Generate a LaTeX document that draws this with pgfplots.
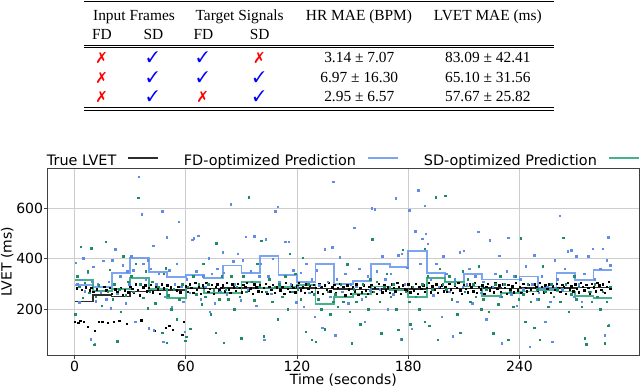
\documentclass[border=0pt]{standalone}
\usepackage{fontspec}
\setmainfont{DejaVu Sans}
\newfontfamily\tabfont{Liberation Serif}
\usepackage{pifont}
\usepackage{pgfplots}
\pgfplotsset{compat=1.18}

\definecolor{fdblue}{RGB}{100,149,237}
\definecolor{fddot}{RGB}{95,140,230}
\definecolor{sdgreen}{RGB}{52,168,125}
\definecolor{sddot}{RGB}{30,140,100}
\definecolor{truegray}{RGB}{45,45,45}
\definecolor{gridgray}{RGB}{205,205,205}

\newcommand{\yes}{\textcolor{blue}{\ding{51}}}
\newcommand{\no}{\textcolor{red}{\ding{55}}}
\newcommand{\chartfont}{\fontsize{14}{16}\selectfont}
\newcommand{\legfont}{\fontsize{14.4}{16}\selectfont}

\begin{document}
\begin{tikzpicture}
\useasboundingbox (0,0) rectangle (640pt,389pt);

% results table (image coordinates, y downwards)
\begin{scope}[x=1pt,y=-1pt,shift={(0pt,389pt)},
  every node/.style={inner sep=0pt, anchor=base, font=\tabfont\fontsize{15.4}{18}\selectfont}]
\draw[line width=1.2pt] (84,1.9) -- (554,1.9);
\node at (134,20.4) {Input Frames};
\node at (239.6,20.4) {Target Signals};
\node at (359,20.4) {HR MAE (BPM)};
\node at (487.8,20.4) {LVET MAE (ms)};
\node at (102,39.6) {FD};
\node at (153.5,39.6) {SD};
\node at (203.5,39.6) {FD};
\node at (259.6,39.6) {SD};
\draw[line width=0.7pt] (84,45.2) -- (554,45.2);
\draw[line width=0.7pt] (84,47.6) -- (554,47.6);
\node at (101.5,62.2) {\no};  \node at (152.6,62.2) {\yes};
\node at (202.6,62.2) {\yes}; \node at (259.3,62.2) {\no};
\node at (359.3,62.2) {3.14 ± 7.07};  \node at (487.8,62.2) {83.09 ± 42.41};
\node at (101.5,82.2) {\no};  \node at (152.6,82.2) {\yes};
\node at (202.6,82.2) {\yes}; \node at (259.3,82.2) {\yes};
\node at (359.3,82.2) {6.97 ± 16.30}; \node at (487.8,82.2) {65.10 ± 31.56};
\node at (101.5,101.9) {\no};  \node at (152.6,101.9) {\yes};
\node at (202.6,101.9) {\no};  \node at (259.3,101.9) {\yes};
\node at (359.3,101.9) {2.95 ± 6.57}; \node at (487.8,101.9) {57.67 ± 25.82};
\draw[line width=0.7pt] (84,107.4) -- (554,107.4);
\draw[line width=1.2pt] (84,110.4) -- (554,110.4);
\end{scope}

\begin{axis}[
  at={(47.7pt,34pt)}, anchor=south west,
  width=591.3pt, height=186.7pt, scale only axis,
  xmin=-14.5, xmax=304.5, ymin=19, ymax=758,
  xtick={0,60,120,180,240}, ytick={200,400,600},
  grid=major, grid style={gridgray, line width=0.8pt},
  axis line style={black!75, line width=0.8pt},
  tick align=outside, tick pos=left, major tick length=3.5pt,
  tick style={black!75, line width=0.8pt},
  /pgf/number format/assume math mode=true,
  tick label style={font=\chartfont},
  label style={font=\chartfont},
  xticklabel style={anchor=north, inner sep=0pt, yshift=-2pt},
  yticklabel style={anchor=east, inner sep=0pt, xshift=-1pt},
  xlabel={Time (seconds)}, ylabel={LVET (ms)},
  xlabel style={at={(axis description cs:0.5,-0.158)}, anchor=base, inner sep=0pt},
  ylabel style={at={(axis description cs:-0.061,0.5)}, anchor=base, inner sep=0pt},
  legend columns=3, legend plot pos=right, legend cell align=left,
  legend image code/.code={\draw[#1] (0pt,0.32em) -- (30pt,0.32em);},
  legend style={at={(axis description cs:0,1)}, anchor=south west, xshift=-1.7pt,
    draw=none, fill=none, inner sep=0pt, outer sep=0pt,
    nodes={inner sep=1pt}, font=\legfont,
    /tikz/every odd column/.append style={column sep=10pt},
    /tikz/every even column/.append style={column sep=24pt}},
]

% true LVET samples
\addplot[only marks, mark=square*, mark size=0.7pt, black, forget plot] coordinates {
(0,150) (1,283) (2,148) (3,155) (4,278) (5,152) (6,288) (7,130) (8,276) (9,285)
(10,270) (11,115) (12,280) (13,150) (14,265) (15,152) (16,290) (17,275) (18,148) (19,285)
(20,262) (21,150) (22,280) (23,270) (24,155) (25,285) (26,258) (27,275) (28,142) (29,268)
(30,290) (31,282) (32,265) (33,300) (34,278) (35,255) (36,157) (37,288) (38,296) (39,272)
(40,285) (41,298) (42,268) (43,115) (44,292) (45,280) (46,262) (47,300) (48,284) (49,128)
(50,295) (51,135) (52,288) (53,120) (54,302) (55,275) (56,290) (57,268) (58,100) (59,150)
(60,292) (61,270) (62,300) (63,285) (64,265) (65,305) (66,278) (67,290) (68,262) (69,296)
(70,288) (71,305) (72,270) (73,282) (74,298) (75,262) (76,290) (77,300) (78,275) (79,286)
(80,296) (81,272) (82,305) (83,280) (84,265) (85,300) (86,288) (87,274) (88,302) (89,285)
(90,268) (91,298) (92,290) (93,305) (94,276) (95,284) (96,262) (97,300) (98,288) (99,272)
(100,295) (101,270) (102,285) (103,302) (104,262) (105,290) (106,278) (107,298) (108,265) (109,288)
(110,300) (111,275) (112,290) (113,262) (114,305) (115,282) (116,270) (117,296) (118,285) (119,268)
(120,292) (121,305) (122,276) (123,288) (124,265) (125,300) (126,282) (127,294) (128,270) (129,298)
(130,285) (131,268) (132,302) (133,290) (134,262) (135,296) (136,278) (137,305) (138,272) (139,288)
(140,298) (141,265) (142,285) (143,302) (144,270) (145,290) (146,255) (147,295) (148,280) (149,262)
(150,288) (151,272) (152,300) (153,258) (154,285) (155,268) (156,295) (157,275) (158,262) (159,290)
(160,298) (161,270) (162,285) (163,262) (164,302) (165,280) (166,268) (167,295) (168,276) (169,288)
(170,265) (171,300) (172,285) (173,272) (174,305) (175,290) (176,262) (177,296) (178,280) (179,275)
(180,300) (181,268) (182,288) (183,275) (184,302) (185,262) (186,290) (187,282) (188,296) (189,270)
(190,285) (191,305) (192,268) (193,292) (194,278) (195,300) (196,265) (197,288) (198,295) (199,272)
(200,290) (201,270) (202,302) (203,280) (204,265) (205,296) (206,285) (207,305) (208,275) (209,262)
(210,298) (211,282) (212,268) (213,300) (214,288) (215,272) (216,305) (217,265) (218,290) (219,280)
(220,295) (221,262) (222,288) (223,302) (224,275) (225,290) (226,268) (227,305) (228,282) (229,296)
(230,270) (231,300) (232,285) (233,262) (234,298) (235,280) (236,292) (237,268) (238,305) (239,276)
(240,290) (241,265) (242,302) (243,285) (244,272) (245,298) (246,280) (247,262) (248,300) (249,288)
(250,275) (251,305) (252,290) (253,268) (254,296) (255,282) (256,300) (257,265) (258,292) (259,278)
(260,302) (261,285) (262,270) (263,298) (264,288) (265,262) (266,305) (267,280) (268,292) (269,272)
(270,300) (271,282) (272,268) (273,305) (274,290) (275,275) (276,298) (277,285) (278,262) (279,302)
(280,288) (281,272) (282,305) (283,295) (284,278) (285,300) (286,265) (287,290) (288,310) (289,282)
};

% FD-optimized prediction samples
\addplot[only marks, mark=square*, mark size=0.75pt, fddot, forget plot] coordinates {
(0.5,385) (1.5,300) (2.5,228) (3.5,318) (4.6,402) (5.5,272) (7,345) (8.7,81) (9.5,310)
(10,369) (10.8,61) (11.5,232) (12.5,300) (14,265) (15.5,392) (17,240) (18.5,310) (19.5,205)
(20.3,395) (21.9,438) (23,262) (24.5,330) (26,375) (27.5,225) (28.5,350) (29.5,300)
(30.5,410) (31.5,355) (32.7,151) (34.7,725) (36.1,577) (37,380) (38.5,320) (39.5,395)
(40.1,125) (41,360) (42.3,451) (42.8,118) (44,300) (45.5,340) (47.3,589) (47.7,71) (48.5,250) (49.7,485)
(51,355) (52.5,210) (54,300) (55,380) (56.3,547) (57.5,290) (58.5,230) (59.5,112)
(60.5,320) (62,265) (63.5,475) (64.3,481) (65.5,350) (66.8,491) (68,240) (69.5,330)
(70.5,290) (72.4,402) (72.8,190) (74,340) (75.5,225) (77,360) (78.5,270) (79.9,425)
(80.5,345) (82,260) (84.1,616) (85.5,390) (86.5,300) (88,420) (89.5,235)
(90.8,395) (92.2,488) (93.5,280) (95,350) (97,490) (98,215) (99.5,330)
(100.5,380) (102.3,79) (103,478) (104.5,330) (106,262) (107,400) (108.3,589) (109.5,606)
(110.5,310) (112,250) (113.7,468) (115.5,468) (116.5,300) (118,355) (119.5,228)
(120.5,290) (122,345) (123.5,210) (125,380) (126.5,265) (128,320) (129.5,170)
(130.5,355) (132,295) (133.6,128) (135,438) (136.5,310) (138,250) (139,445) (139.4,705)
(140.5,98) (141.5,320) (143,406) (144.5,270) (146,340) (147.5,225) (149,300)
(150.9,523) (152,290) (153.5,360) (155,240) (156.5,150) (158,330) (159.5,275)
(160.4,600) (161.8,596) (163,350) (164.5,280) (166,410) (167.5,320) (169,200)
(170.5,340) (172,260) (173.3,640) (174.5,415) (176,82) (176.5,420) (178,300) (179.5,365)
(180.6,593) (182,124) (183.8,510) (185.5,672) (186.5,380) (187.5,480) (188.8,609) (189.5,500)
(190.5,460) (192,320) (193.5,255) (195,380) (196.5,290) (198,170) (199,410)
(200.5,340) (202,270) (203.9,93) (205,320) (206.5,230) (207.9,425) (209.5,290)
(210,432) (211.5,300) (213,360) (214.5,225) (216,330) (217.8,507) (219,265)
(220.5,310) (222,160) (224,474) (225.5,290) (227,340) (229,413) (229.5,250)
(230.5,65) (231.5,300) (233,350) (234,484) (235.5,260) (237,330) (238.5,215)
(240.5,320) (242,280) (243.5,370) (245.5,52) (247,300) (248,415) (249.5,240)
(250.5,265) (252,330) (254,150) (255,290) (256.5,230) (257.6,72) (259,395)
(260.5,320) (261.8,571) (263,280) (264.5,360) (266,430) (268,434) (269.5,250)
(270.5,410) (272,300) (273.5,230) (275,340) (277,410) (278.5,270) (279.5,440)
(280.5,320) (282,250) (283.5,360) (285,440) (286,98) (287,395) (287.8,485) (288.2,139) (289,375)
};

% SD-optimized prediction samples
\addplot[only marks, mark=square*, mark size=0.75pt, sddot, forget plot] coordinates {
(0.4,180) (1.5,330) (2.5,290) (3.3,448) (4.5,245) (5.5,305) (7,350) (8,265) (9,441)
(10.5,59) (11.5,250) (13,295) (14.5,215) (16.7,468) (18,270) (19,356)
(20.5,240) (21.5,300) (22.9,74) (24,280) (25,190) (26.3,411) (27.5,255) (29,310)
(30.5,330) (31.5,270) (33,380) (34.2,642) (35.5,300) (37,245) (38.5,350) (39.5,205)
(40.5,270) (42,310) (43.5,225) (45,290) (47.3,108) (48,340) (49.1,362) (49.6,68)
(50.5,255) (52,200) (53.5,280) (55,160) (56.5,240) (58,300) (59.8,75)
(60.2,91) (61,290) (62.5,124) (64,330) (65.5,260) (67,300) (68.5,220) (69.5,380)
(70.5,250) (72,300) (73.5,180) (75,275) (76,108) (76.5,461) (78,240) (79.5,330)
(80.5,68) (81.5,280) (83,240) (84.5,330) (86,200) (87.5,290) (89,250)
(90,85) (91,330) (92.5,270) (93.9,643) (95.5,310) (97,235) (98.5,380) (99.5,290)
(100.8,472) (102,94) (103.5,270) (105,320) (106.5,230) (108,290) (109.5,160)
(110.5,300) (112,250) (113.5,330) (115,200) (116,420) (117.5,270) (119,340)
(120.5,280) (122,240) (123,404) (124.6,112) (126,300) (127.8,79) (129,260)
(130,71) (131.5,240) (133,200) (135,121) (136.5,270) (138,180) (139.5,230)
(140.5,260) (142,210) (143.5,300) (145,230) (147,379) (148.5,190) (149.5,66)
(150.5,280) (152,230) (154,141) (155.5,300) (157,250) (158.5,200) (159.5,320)
(160.5,477) (161.5,270) (163,310) (164.5,230) (165.5,105) (167,290) (168.5,340)
(170.5,250) (172,300) (173.5,200) (174.6,120) (176.6,82) (177,435) (178.5,270)
(180.5,230) (181,140) (182.5,290) (184,250) (186,200) (187.5,300) (188.8,151) (189,440)
(190.5,330) (191.4,134) (193,280) (194.9,643) (196,80) (197,360) (198.5,300) (199.9,649)
(200.5,280) (202,330) (203.5,240) (205,300) (206.5,180) (208,108) (209.5,350)
(210.5,270) (212,320) (213.5,230) (215,300) (216.5,250) (218,370) (219.5,200)
(220.5,240) (222,280) (223.5,190) (225.9,105) (227,300) (228.5,220) (229.5,330)
(230.5,250) (232,300) (233.8,79) (235,270) (236.5,210) (238,330) (239.5,240)
(240.6,481) (242,260) (243,150) (244.5,300) (246,230) (248,128) (249.5,280)
(250.5,240) (251,79) (252.5,370) (254,270) (255.5,210) (257,300) (258.5,250)
(260.5,280) (262,230) (263.6,484) (265,300) (266.5,190) (268,260) (269.5,330)
(270.5,240) (272,290) (273.5,210) (275.1,85) (276,62) (277.5,270) (279,230)
(280.5,300) (282,250) (283.5,200) (285,270) (286,65) (287,230) (288,135) (289,290)
};

% 10-second averages
\addplot[const plot, truegray, line width=1.6pt] coordinates {
(0,230) (10,256) (20,251) (30,270) (40,274) (50,277) (60,283) (70,283) (80,285) (90,285)
(100,282) (110,283) (120,284) (130,282) (140,281) (150,278) (160,280) (170,282) (180,281) (190,283)
(200,283) (210,282) (220,284) (230,283) (240,284) (250,285) (260,285) (270,286) (280,286) (290,286)
};
\addlegendentry{True LVET}
\addplot[const plot, fdblue, opacity=0.85, line width=1.8pt] coordinates {
(0,295) (10,287) (20,344) (30,402) (40,349) (50,327) (60,336) (70,323) (80,373) (90,343)
(100,411) (110,336) (120,309) (130,378) (140,299) (150,312) (160,379) (170,366) (180,432) (190,345)
(200,310) (210,340) (220,318) (230,318) (240,330) (250,283) (260,345) (270,315) (280,357) (290,357)
};
\addlegendentry{FD-optimized Prediction}
\addplot[const plot, sdgreen, opacity=0.9, line width=1.8pt] coordinates {
(0,317) (10,272) (20,279) (30,323) (40,279) (50,244) (60,286) (70,266) (80,266) (90,309)
(100,283) (110,287) (120,296) (130,221) (140,248) (150,259) (160,290) (170,276) (180,250) (190,323)
(200,309) (210,290) (220,254) (230,263) (240,270) (250,276) (260,270) (270,253) (280,244) (290,244)
};
\addlegendentry{SD-optimized Prediction}
\end{axis}
\end{tikzpicture}
\end{document}
